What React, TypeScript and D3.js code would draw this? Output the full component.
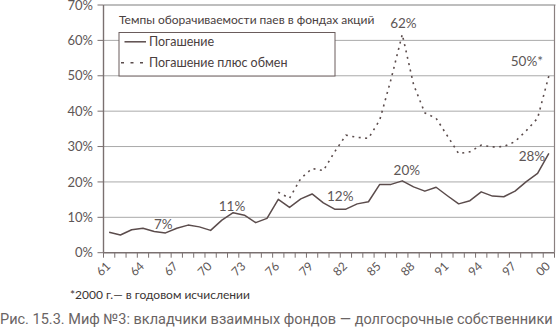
import React from "react";
import * as d3 from "d3";

const years = d3.range(1961, 2001);
const tickYears = [1961, 1964, 1967, 1970, 1973, 1976, 1979, 1982, 1985, 1988, 1991, 1994, 1997, 2000];
const redemption = [
  5.8, 5.0, 6.5, 6.9, 6.0, 5.6, 6.9, 7.8, 7.3, 6.3,
  9.2, 11.3, 10.6, 8.5, 9.7, 15.1, 12.8, 15.2, 16.6, 14.1,
  12.3, 12.3, 13.8, 14.4, 19.3, 19.3, 20.3, 18.6, 17.4, 18.5,
  16.1, 13.8, 14.7, 17.2, 16.0, 15.8, 17.4, 20.1, 22.4, 28.1,
];
const exchangeYears = d3.range(1976, 2001);
const redemptionPlusExchange = [
  17.1, 15.4, 21.0, 23.8, 23.2, 28.5, 33.2, 32.6, 32.3, 37.5,
  49.0, 61.7, 47.5, 39.5, 38.0, 33.0, 28.0, 28.5, 30.4, 29.9,
  30.0, 31.4, 34.5, 38.0, 50.0,
];
const yTicks = [0, 10, 20, 30, 40, 50, 60, 70];
const annotations = [
  { year: 1965.8, value: 7, text: "7%", dy: 0.8 },
  { year: 1971.9, value: 11, text: "11%", dy: -3.1 },
  { year: 1981.5, value: 12, text: "12%", dy: -8.9 },
  { year: 1987.4, value: 20, text: "20%", dy: -6.6 },
  { year: 1998.5, value: 28, text: "28%", dy: 7.7 },
  { year: 1987.1, value: 62, text: "62%", dy: -5.2 },
  { year: 1998.05, value: 50, text: "50%*", dy: -9.4 },
];

const W = 556;
const H = 329;
const FONT = "Lato, 'Open Sans', sans-serif";
const INK = "#5b4c4c";
const TXT = "#5d5656";

export default function App() {
  const x = d3.scaleBand<number>().domain(years).range([103.5, 554.5]).padding(0);
  const bw = x.bandwidth();
  const cx = (yr: number) => (x(Math.floor(yr)) as number) + bw / 2 + (yr - Math.floor(yr)) * bw;
  const y = d3.scaleLinear().domain([0, 70]).range([252.7, 5]);

  const line = d3.line<[number, number]>().x((d) => cx(d[0])).y((d) => y(d[1]));
  const solidPts: [number, number][] = years.map((yr, i) => [yr, redemption[i]]);
  const dotPts: [number, number][] = exchangeYears.map((yr, i) => [yr, redemptionPlusExchange[i]]);

  const left = 103.5;
  const right = 554.5;

  return (
    <svg width={W} height={H} style={{ position: "absolute", left: 0, top: 0, background: "#fff" }} fontFamily={FONT}>
      {yTicks.filter((t) => t > 0 && t < 70).map((t) => (
        <line key={t} x1={left} x2={right} y1={y(t)} y2={y(t)} stroke="#aaa" strokeWidth={1} />
      ))}
      <line x1={left} x2={right + 1} y1={y(70)} y2={y(70)} stroke="#a9a9a9" strokeWidth={1.6} />
      <line x1={right} x2={right} y1={y(70)} y2={y(0)} stroke="#8a8080" strokeWidth={1.2} />
      <line x1={left} x2={left} y1={y(70)} y2={y(0)} stroke="#7a7070" strokeWidth={1.4} />
      {yTicks.map((t) => (
        <g key={t}>
          <line x1={left - 6} x2={left} y1={y(t)} y2={y(t)} stroke="#7a7070" strokeWidth={1} />
          <text x={93} y={y(t) + 4.6} textAnchor="end" fontSize={13} fill={TXT}>{t}%</text>
        </g>
      ))}
      <line x1={left} x2={right} y1={y(0)} y2={y(0)} stroke="#7a7070" strokeWidth={1.4} />
      {years.map((yr) => (
        <line key={yr} x1={x(yr)} x2={x(yr)} y1={y(0)} y2={y(0) + 5} stroke="#7a7070" strokeWidth={1} />
      ))}
      <line x1={right} x2={right} y1={y(0)} y2={y(0) + 5} stroke="#7a7070" strokeWidth={1} />
      {tickYears.map((yr) => {
        const px = cx(yr) - 1;
        const py = 264;
        return (
          <text key={yr} x={px} y={py} textAnchor="end" fontSize={12} fill={TXT}
            transform={`rotate(-45 ${px} ${py})`} dy="0.35em">
            {String(yr % 100).padStart(2, "0")}
          </text>
        );
      })}
      <path d={line(solidPts) || ""} fill="none" stroke={INK} strokeWidth={1.5} strokeLinejoin="round" />
      <path d={line(dotPts) || ""} fill="none" stroke={INK} strokeWidth={1.6} strokeDasharray="2 4.5" />
      {annotations.map((a) => (
        <text key={a.text + a.value} x={cx(a.year)} y={y(a.value) + a.dy} textAnchor="middle" fontSize={13.5} fill={TXT}>
          {a.text}
        </text>
      ))}
      <text x={119} y={24} fontSize={12} fill={"#4a4040"}>Темпы оборачиваемости паев в фондах акций</text>
      <rect x={119} y={32.5} width={216} height={43.5} fill="#fff" stroke="#6a5c5c" strokeWidth={1} />
      <line x1={124.5} x2={146} y1={41.8} y2={41.8} stroke={INK} strokeWidth={1.5} />
      <text x={149} y={46.3} fontSize={12.5} fill={"#4a4040"}>Погашение</text>
      <line x1={121} x2={146} y1={62.8} y2={62.8} stroke={INK} strokeWidth={1.6} strokeDasharray="3 6.5" />
      <text x={149} y={67.3} fontSize={12.5} fill={"#4a4040"}>Погашение плюс обмен</text>
      <text x={70} y={299} fontSize={12} fill={"#3a3434"}>*2000 г.— в годовом исчислении</text>
      <text x={0} y={324} fontSize={14.5} fill={"#6a6464"} fontFamily="Roboto, sans-serif">
        Рис. 15.3. Миф №3: вкладчики взаимных фондов — долгосрочные собственники
      </text>
    </svg>
  );
}
